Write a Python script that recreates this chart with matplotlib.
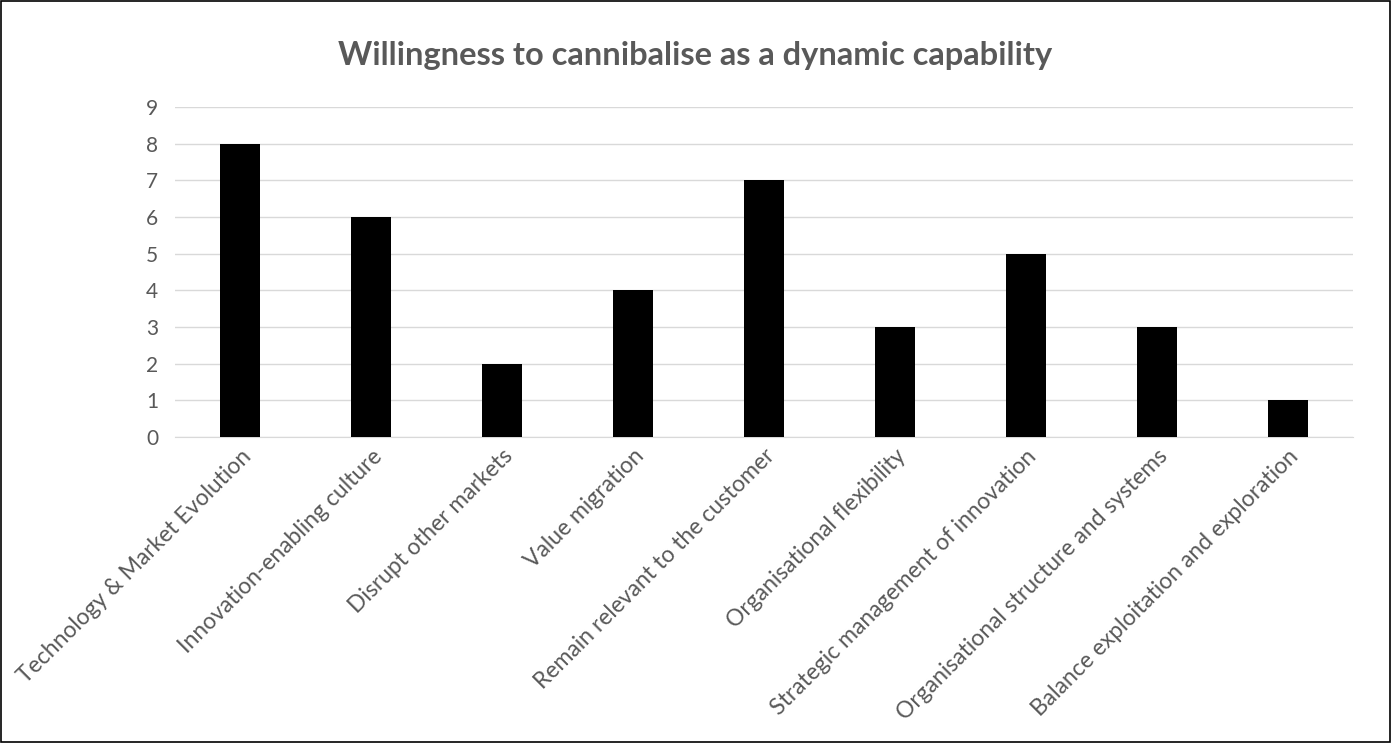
import matplotlib.pyplot as plt
from matplotlib.patches import Rectangle

# categories and counts
categories = ["Technology & Market Evolution", "Innovation-enabling culture",
              "Disrupt other markets", "Value migration",
              "Remain relevant to the customer", "Organisational flexibility",
              "Strategic management of innovation",
              "Organisational structure and systems",
              "Balance exploitation and exploration"]
counts = [8, 6, 2, 4, 7, 3, 5, 3, 1]
y_ticks = list(range(0, 10))

plt.rcParams['font.family'] = ['Lato', 'DejaVu Sans']
txt_col = '#595959'

fig = plt.figure(figsize=(13.91, 7.43), dpi=100)
ax = fig.add_axes([0.1258, 0.4118, 0.8469, 0.4442])

x = range(len(categories))
ax.bar(x, counts, width=0.305, color='black', zorder=3)

ax.set_xlim(-0.5, len(categories) - 0.5)
ax.set_ylim(0, 9)
ax.set_yticks(y_ticks)
ax.yaxis.grid(True, color='#d9d9d9', linewidth=1, zorder=0)
ax.set_xticks(list(x))
ax.set_xticklabels(categories, rotation=45, ha='right', rotation_mode='anchor',
                   fontsize=16.5, color=txt_col)
ax.tick_params(axis='y', labelsize=15, labelcolor=txt_col, length=0, pad=12)
ax.tick_params(axis='x', length=0, pad=6)
for s in ['top', 'right', 'left']:
    ax.spines[s].set_visible(False)
ax.spines['bottom'].set_color('#d9d9d9')

fig.suptitle('Willingness to cannibalise as a dynamic capability', y=0.945,
             fontsize=23.5, fontweight='bold', color=txt_col)

# border round the chart
fig.patches.append(Rectangle((0.001, 0.001), 0.998, 0.997, transform=fig.transFigure,
                             fill=False, edgecolor='black', linewidth=1.2))

fig.savefig('out.png', dpi=100)
